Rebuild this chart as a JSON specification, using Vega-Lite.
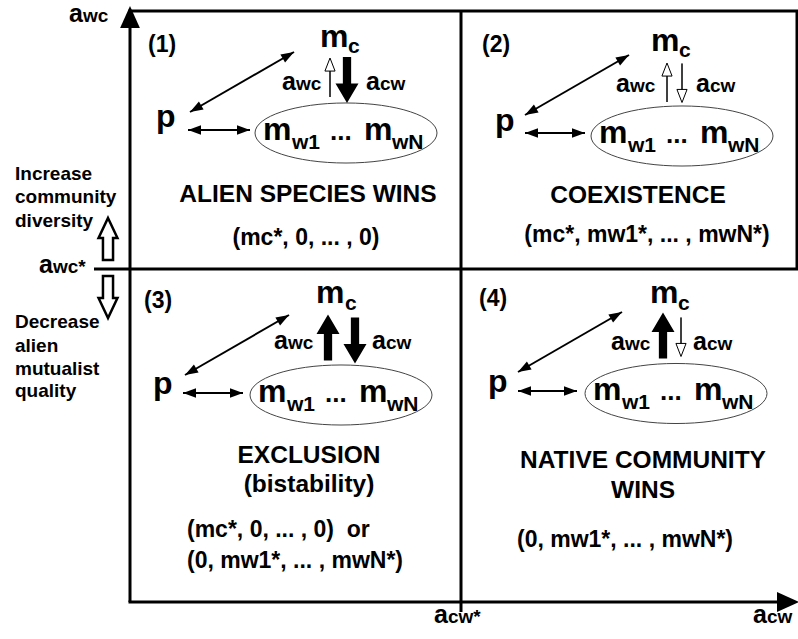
{
  "$schema": "https://vega.github.io/schema/vega-lite/v6.json",
  "width": 798,
  "height": 639,
  "autosize": {"type": "none"},
  "padding": 0,
  "background": "white",
  "config": {"view": {"stroke": null}},
  "datasets": {
    "frame": [
      {"x": 130, "y": 24, "x2": 130, "y2": 602},
      {"x": 128.5, "y": 11, "x2": 798, "y2": 11},
      {"x": 94, "y": 269, "x2": 798, "y2": 269},
      {"x": 461, "y": 11, "x2": 461, "y2": 612},
      {"x": 128.5, "y": 602, "x2": 784, "y2": 602},
      {"x": 797, "y": 11, "x2": 797, "y2": 269}
    ],
    "axisheads": [
      {"x": 130, "y": 6, "angle": 0},
      {"x": 799, "y": 602, "angle": 90}
    ],
    "darrows": [
      {"x": 190, "y": 112, "x2": 294, "y2": 52},
      {"x": 525, "y": 115, "x2": 629, "y2": 55},
      {"x": 185, "y": 375, "x2": 289, "y2": 315},
      {"x": 518, "y": 372, "x2": 622, "y2": 312},
      {"x": 188, "y": 130, "x2": 250, "y2": 130},
      {"x": 525, "y": 133, "x2": 585, "y2": 133},
      {"x": 183, "y": 393, "x2": 243, "y2": 393},
      {"x": 518, "y": 391, "x2": 577, "y2": 391}
    ],
    "heads": [
      {"x": 294, "y": 52, "angle": 60}, {"x": 190, "y": 112, "angle": 240},
      {"x": 629, "y": 55, "angle": 60}, {"x": 525, "y": 115, "angle": 240},
      {"x": 289, "y": 315, "angle": 60}, {"x": 185, "y": 375, "angle": 240},
      {"x": 622, "y": 312, "angle": 60}, {"x": 518, "y": 372, "angle": 240},
      {"x": 250, "y": 130, "angle": 90}, {"x": 188, "y": 130, "angle": 270},
      {"x": 585, "y": 133, "angle": 90}, {"x": 525, "y": 133, "angle": 270},
      {"x": 243, "y": 393, "angle": 90}, {"x": 183, "y": 393, "angle": 270},
      {"x": 577, "y": 391, "angle": 90}, {"x": 518, "y": 391, "angle": 270}
    ],
    "thinarrows": [
      {"x": 330, "y": 77.5, "angle": 0},
      {"x": 667, "y": 82.5, "angle": 0},
      {"x": 682, "y": 83, "angle": 180},
      {"x": 681, "y": 337, "angle": 180}
    ],
    "thickarrows": [
      {"x": 347, "y": 80, "angle": 180},
      {"x": 328, "y": 337.5, "angle": 0},
      {"x": 355, "y": 340.5, "angle": 180},
      {"x": 663, "y": 335.5, "angle": 0}
    ],
    "blockarrows": [
      {"x": 108, "y": 239, "angle": 0},
      {"x": 108, "y": 297, "angle": 180}
    ],
    "ellipses": [
      {"x": 346, "y": 133},
      {"x": 682, "y": 136},
      {"x": 341, "y": 395},
      {"x": 676, "y": 393.5}
    ],
    "num": [
      {"x": 148, "y": 52, "t": "(1)"},
      {"x": 482, "y": 52, "t": "(2)"},
      {"x": 144, "y": 308, "t": "(3)"},
      {"x": 479, "y": 306, "t": "(4)"}
    ],
    "mbig": [
      {"x": 320, "y": 47, "t": "m"}, {"x": 651, "y": 51, "t": "m"},
      {"x": 316, "y": 303, "t": "m"}, {"x": 650, "y": 303, "t": "m"},
      {"x": 156, "y": 127, "t": "p"}, {"x": 495, "y": 131, "t": "p"},
      {"x": 153, "y": 394, "t": "p"}, {"x": 488, "y": 392, "t": "p"},
      {"x": 263, "y": 140, "t": "m"}, {"x": 364, "y": 140, "t": "m"},
      {"x": 599, "y": 143, "t": "m"}, {"x": 700, "y": 143, "t": "m"},
      {"x": 258, "y": 402, "t": "m"}, {"x": 359, "y": 402, "t": "m"},
      {"x": 593, "y": 400, "t": "m"}, {"x": 694, "y": 400, "t": "m"}
    ],
    "sub": [
      {"x": 348, "y": 53, "t": "c"}, {"x": 679, "y": 57, "t": "c"},
      {"x": 345, "y": 310, "t": "c"}, {"x": 678, "y": 310, "t": "c"},
      {"x": 292, "y": 149, "t": "w1"}, {"x": 392, "y": 149, "t": "wN"},
      {"x": 628, "y": 152, "t": "w1"}, {"x": 728, "y": 152, "t": "wN"},
      {"x": 287, "y": 411, "t": "w1"}, {"x": 387, "y": 411, "t": "wN"},
      {"x": 622, "y": 409, "t": "w1"}, {"x": 722, "y": 409, "t": "wN"}
    ],
    "dots": [
      {"x": 330, "y": 140, "t": "..."}, {"x": 666, "y": 143, "t": "..."},
      {"x": 325, "y": 402, "t": "..."}, {"x": 660, "y": 400, "t": "..."}
    ],
    "aletter": [
      {"x": 282, "y": 90, "t": "a"}, {"x": 366, "y": 90, "t": "a"},
      {"x": 616, "y": 92, "t": "a"}, {"x": 696, "y": 92, "t": "a"},
      {"x": 274, "y": 349, "t": "a"}, {"x": 372, "y": 349, "t": "a"},
      {"x": 611, "y": 350, "t": "a"}, {"x": 693, "y": 350, "t": "a"},
      {"x": 69, "y": 22, "t": "a"}, {"x": 39, "y": 273, "t": "a"},
      {"x": 434, "y": 623, "t": "a"}, {"x": 753, "y": 623, "t": "a"}
    ],
    "asub": [
      {"x": 296, "y": 90, "t": "wc"}, {"x": 380, "y": 90, "t": "cw"},
      {"x": 630, "y": 92, "t": "wc"}, {"x": 710, "y": 92, "t": "cw"},
      {"x": 288, "y": 349, "t": "wc"}, {"x": 386, "y": 349, "t": "cw"},
      {"x": 625, "y": 350, "t": "wc"}, {"x": 707, "y": 350, "t": "cw"},
      {"x": 83, "y": 22, "t": "wc"}, {"x": 53, "y": 273, "t": "wc*"},
      {"x": 448, "y": 623, "t": "cw*"}, {"x": 767, "y": 623, "t": "cw"}
    ],
    "title": [
      {"x": 308, "y": 202, "t": "ALIEN SPECIES WINS"},
      {"x": 638, "y": 203, "t": "COEXISTENCE"},
      {"x": 309, "y": 463, "t": "EXCLUSION"},
      {"x": 309, "y": 492, "t": "(bistability)"},
      {"x": 643, "y": 468, "t": "NATIVE COMMUNITY"},
      {"x": 643, "y": 498, "t": "WINS"}
    ],
    "eqc": [
      {"x": 306, "y": 245, "t": "(mc*, 0, ... , 0)"},
      {"x": 647, "y": 242, "t": "(mc*, mw1*, ... , mwN*)"},
      {"x": 625, "y": 547, "t": "(0, mw1*, ... , mwN*)"}
    ],
    "eql": [
      {"x": 187, "y": 537, "t": "(mc*, 0, ... , 0)\u00a0\u00a0or"},
      {"x": 187, "y": 568, "t": "(0, mw1*, ... , mwN*)"}
    ],
    "side": [
      {"x": 15, "y": 180, "t": "Increase"},
      {"x": 15, "y": 203, "t": "community"},
      {"x": 15, "y": 227, "t": "diversity"},
      {"x": 15, "y": 328, "t": "Decrease"},
      {"x": 15, "y": 352, "t": "alien"},
      {"x": 15, "y": 375, "t": "mutualist"},
      {"x": 15, "y": 397, "t": "quality"}
    ]
  },
  "encoding": {
    "x": {"field": "x", "type": "quantitative", "scale": {"domain": [0, 798], "nice": false, "zero": false}, "axis": null},
    "y": {"field": "y", "type": "quantitative", "scale": {"domain": [0, 639], "reverse": true, "nice": false, "zero": false}, "axis": null}
  },
  "layer": [
    {
      "data": {"name": "frame"},
      "mark": {"type": "rule", "strokeWidth": 3, "color": "black"},
      "encoding": {"x2": {"field": "x2"}, "y2": {"field": "y2"}}
    },
    {
      "data": {"name": "axisheads"},
      "mark": {"type": "point", "shape": "M0,0L0.45,1L-0.45,1Z", "size": 1936, "filled": true, "color": "black", "opacity": 1},
      "encoding": {"angle": {"field": "angle", "type": "quantitative", "scale": null}}
    },
    {
      "data": {"name": "ellipses"},
      "mark": {"type": "point", "shape": "M-1,0A1,0.33 0 1,0 1,0A1,0.33 0 1,0 -1,0Z", "size": 33124, "filled": false, "stroke": "#444444", "strokeWidth": 1, "opacity": 1}
    },
    {
      "data": {"name": "darrows"},
      "mark": {"type": "rule", "strokeWidth": 2, "color": "black"},
      "encoding": {"x2": {"field": "x2"}, "y2": {"field": "y2"}}
    },
    {
      "data": {"name": "heads"},
      "mark": {"type": "point", "shape": "M0,0L0.36,1L-0.36,1Z", "size": 676, "filled": true, "color": "black", "opacity": 1},
      "encoding": {"angle": {"field": "angle", "type": "quantitative", "scale": null}}
    },
    {
      "data": {"name": "thinarrows"},
      "mark": {"type": "point", "shape": "M0,-1L0.26,-0.33L0,-0.33L0,1L0,-0.33L-0.26,-0.33Z", "size": 1521, "filled": true, "fill": "white", "stroke": "black", "strokeWidth": 1, "opacity": 1},
      "encoding": {"angle": {"field": "angle", "type": "quantitative", "scale": null}}
    },
    {
      "data": {"name": "thickarrows"},
      "mark": {"type": "point", "shape": "M0,-1L0.5,-0.15L0.18,-0.15L0.18,1L-0.18,1L-0.18,-0.15L-0.5,-0.15Z", "size": 2116, "filled": true, "color": "black", "opacity": 1},
      "encoding": {"angle": {"field": "angle", "type": "quantitative", "scale": null}}
    },
    {
      "data": {"name": "blockarrows"},
      "mark": {"type": "point", "shape": "M0,-1L0.45,-0.05L0.24,-0.05L0.24,1L-0.24,1L-0.24,-0.05L-0.45,-0.05Z", "size": 1764, "filled": true, "fill": "white", "stroke": "black", "strokeWidth": 2.5, "opacity": 1},
      "encoding": {"angle": {"field": "angle", "type": "quantitative", "scale": null}}
    },
    {
      "data": {"name": "num"},
      "mark": {"type": "text", "font": "Liberation Sans", "fontWeight": "bold", "fontSize": 23, "align": "left", "baseline": "alphabetic", "color": "black"},
      "encoding": {"text": {"field": "t"}}
    },
    {
      "data": {"name": "mbig"},
      "mark": {"type": "text", "font": "Liberation Sans", "fontWeight": "bold", "fontSize": 32, "align": "left", "baseline": "alphabetic", "color": "black"},
      "encoding": {"text": {"field": "t"}}
    },
    {
      "data": {"name": "sub"},
      "mark": {"type": "text", "font": "Liberation Sans", "fontWeight": "bold", "fontSize": 21, "align": "left", "baseline": "alphabetic", "color": "black"},
      "encoding": {"text": {"field": "t"}}
    },
    {
      "data": {"name": "dots"},
      "mark": {"type": "text", "font": "Liberation Sans", "fontWeight": "bold", "fontSize": 26, "align": "left", "baseline": "alphabetic", "color": "black"},
      "encoding": {"text": {"field": "t"}}
    },
    {
      "data": {"name": "aletter"},
      "mark": {"type": "text", "font": "Liberation Sans", "fontWeight": "bold", "fontSize": 25, "align": "left", "baseline": "alphabetic", "color": "black"},
      "encoding": {"text": {"field": "t"}}
    },
    {
      "data": {"name": "asub"},
      "mark": {"type": "text", "font": "Liberation Sans", "fontWeight": "bold", "fontSize": 19, "align": "left", "baseline": "alphabetic", "color": "black"},
      "encoding": {"text": {"field": "t"}}
    },
    {
      "data": {"name": "title"},
      "mark": {"type": "text", "font": "Liberation Sans", "fontWeight": "bold", "fontSize": 24.5, "align": "center", "baseline": "alphabetic", "color": "black"},
      "encoding": {"text": {"field": "t"}}
    },
    {
      "data": {"name": "eqc"},
      "mark": {"type": "text", "font": "Liberation Sans", "fontWeight": "bold", "fontSize": 23, "align": "center", "baseline": "alphabetic", "color": "black"},
      "encoding": {"text": {"field": "t"}}
    },
    {
      "data": {"name": "eql"},
      "mark": {"type": "text", "font": "Liberation Sans", "fontWeight": "bold", "fontSize": 23, "align": "left", "baseline": "alphabetic", "color": "black"},
      "encoding": {"text": {"field": "t"}}
    },
    {
      "data": {"name": "side"},
      "mark": {"type": "text", "font": "Liberation Sans", "fontWeight": "bold", "fontSize": 19, "align": "left", "baseline": "alphabetic", "color": "black"},
      "encoding": {"text": {"field": "t"}}
    }
  ]
}
